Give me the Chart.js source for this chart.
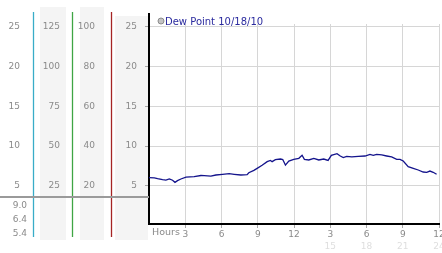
<!DOCTYPE html>
<html>
<head>
<meta charset="utf-8">
<title>Dew Point 10/18/10</title>
<script src="https://cdn.jsdelivr.net/npm/chart.js@4.4.0/dist/chart.umd.min.js"></script>
<style>
  html, body { margin: 0; padding: 0; background: #fff; }
</style>
</head>
<body>
<canvas id="dewChart" width="442" height="253"></canvas>
<script>
'use strict';

// readings for the day, hours after midnight
const hours = [
  0.0, 0.44, 0.71, 1.12, 1.40, 1.68, 1.95, 2.15, 2.36, 2.64,
  3.06, 3.74, 4.30, 4.57, 5.12, 5.54, 6.08, 6.64, 7.05, 7.60,
  8.12, 8.26, 8.68, 8.95, 9.36, 9.78, 10.05, 10.19, 10.46, 10.88,
  11.07, 11.29, 11.57, 11.98, 12.40, 12.67, 12.86, 13.22, 13.64, 14.05,
  14.46, 14.82, 15.09, 15.56, 15.83, 16.08, 16.36, 16.78, 17.32, 17.88,
  18.29, 18.56, 18.84, 19.26, 19.67, 20.08, 20.50, 20.77, 21.04, 21.45,
  21.87, 22.28, 22.69, 22.98, 23.25, 23.52, 23.80
];
const dewPoint = [
  6.03, 6.0, 5.9, 5.78, 5.73, 5.86, 5.7, 5.44, 5.65, 5.86,
  6.1, 6.15, 6.3, 6.28, 6.23, 6.36, 6.45, 6.53, 6.45, 6.36,
  6.4, 6.65, 6.95, 7.2, 7.58, 8.04, 8.2, 8.04, 8.3, 8.37,
  8.3, 7.6, 8.12, 8.33, 8.46, 8.84, 8.33, 8.25, 8.46, 8.25,
  8.37, 8.2, 8.84, 9.05, 8.75, 8.55, 8.71, 8.63, 8.71, 8.75,
  8.96, 8.84, 8.96, 8.88, 8.75, 8.63, 8.33, 8.33, 8.12, 7.42,
  7.2, 6.99, 6.74, 6.7, 6.86, 6.7, 6.45
];

const seriesLabel = 'Dew Point 10/18/10';

const hourTicks = [3, 6, 9, 12, 15, 18, 21, 24];
const hourLabels = ['3', '6', '9', '12', '3', '6', '9', '12'];
const hourLabels24 = ['', '', '', '', '15', '18', '21', '24'];

const dewTicks = [5, 10, 15, 20, 25];
const col2Ticks = [25, 50, 75, 100, 125];
const col3Ticks = [20, 40, 60, 80, 100];
const statLabels = ['9.0', '6.4', '5.4'];   // high, last, low

const DEW_MIN = 0.2, DEW_MAX = 25.35;
const FONT = '"DejaVu Sans", Verdana, sans-serif';
const LABEL_GREY = '#8a8a8a';

function fixWidth(w) {
  return function (scale) {
    scale.width = w;
    scale.paddingTop = 0;
    scale.paddingBottom = 0;
  };
}
function fixHeight(h) {
  return function (scale) {
    scale.height = h;
    scale.paddingLeft = 0;
    scale.paddingRight = 0;
  };
}
function useTicks(values) {
  return function (scale) {
    scale.ticks = values.map(v => ({ value: v }));
  };
}

function sideAxis(values, min, max, width, pad, weight) {
  return {
    type: 'linear',
    position: 'left',
    weight: weight,
    min: min,
    max: max,
    afterBuildTicks: useTicks(values),
    afterFit: fixWidth(width),
    grid: { display: false, drawTicks: false },
    border: { display: false },
    ticks: { color: LABEL_GREY, padding: pad, autoSkip: false, font: { family: FONT, size: 9 } }
  };
}

// grey columns, coloured rules, legend and the stats block on the left
const panelPlugin = {
  id: 'panels',
  beforeDraw(chart) {
    const ctx = chart.ctx, s = chart.scales;
    ctx.save();
    ctx.fillStyle = '#f4f4f4';
    ctx.fillRect(s.yB.left + 7, 7, 26, 233);
    ctx.fillRect(s.yC.left + 8, 7, 24, 233);
    ctx.fillRect(s.y.left + 4, 16, 33, 224);
    ctx.restore();
  },
  afterDraw(chart) {
    const ctx = chart.ctx, s = chart.scales, area = chart.chartArea;
    ctx.save();

    const rules = [[s.yA, '#38acc8'], [s.yB, '#3fa544'], [s.yC, '#a52424']];
    ctx.lineWidth = 1.3;
    rules.forEach(([sc, col]) => {
      const x = Math.round(sc.right) + 0.5;
      ctx.strokeStyle = col;
      ctx.beginPath();
      ctx.moveTo(x, 12);
      ctx.lineTo(x, 237);
      ctx.stroke();
    });

    ctx.strokeStyle = '#9a9a9a';
    ctx.lineWidth = 2;
    ctx.beginPath();
    ctx.moveTo(0, 197);
    ctx.lineTo(area.left, 197);
    ctx.stroke();

    // axis line runs up past the plot
    ctx.strokeStyle = '#000';
    ctx.lineWidth = 2;
    ctx.beginPath();
    ctx.moveTo(area.left, 13);
    ctx.lineTo(area.left, area.top + 1);
    ctx.stroke();

    // legend
    ctx.beginPath();
    ctx.arc(161, 21, 3, 0, Math.PI * 2);
    ctx.fillStyle = '#c4c4c4';
    ctx.fill();
    ctx.lineWidth = 1;
    ctx.strokeStyle = '#8c8c8c';
    ctx.stroke();
    ctx.fillStyle = '#2a2a9e';
    ctx.font = '10px ' + FONT;
    ctx.textBaseline = 'alphabetic';
    ctx.textAlign = 'left';
    ctx.fillText(chart.data.datasets[0].label, 165, 24.5);

    ctx.fillStyle = LABEL_GREY;
    ctx.font = '9.5px ' + FONT;
    ctx.fillText('Hours', 152, 235);

    ctx.font = '9px ' + FONT;
    ctx.textAlign = 'right';
    [207.5, 222, 236].forEach((y, i) => ctx.fillText(statLabels[i], 27, y));
    ctx.restore();
  }
};

new Chart(document.getElementById('dewChart').getContext('2d'), {
  type: 'line',
  data: {
    datasets: [{
      label: seriesLabel,
      data: hours.map((h, i) => ({ x: h, y: dewPoint[i] })),
      borderColor: '#14148c',
      borderWidth: 1.3,
      pointRadius: 0,
      tension: 0,
      fill: false
    }]
  },
  options: {
    responsive: false,
    animation: false,
    layout: { padding: { top: 24, left: 0, right: 3, bottom: 4 } },
    plugins: { legend: { display: false }, tooltip: { enabled: false } },
    scales: {
      x: {
        type: 'linear',
        position: 'bottom',
        min: 0,
        max: 24,
        afterBuildTicks: useTicks(hourTicks),
        afterFit: fixHeight(14),
        grid: { color: '#d6d6d6', tickColor: '#a8a8a8', tickLength: 4 },
        border: { color: '#000', width: 2 },
        ticks: {
          color: LABEL_GREY, padding: 1, autoSkip: false, maxRotation: 0,
          font: { family: FONT, size: 9 },
          callback: (v, i) => hourLabels[i]
        }
      },
      x2: {
        type: 'linear',
        position: 'bottom',
        weight: 1,
        min: 0,
        max: 24,
        afterBuildTicks: useTicks(hourTicks),
        afterFit: fixHeight(11),
        grid: { display: false, drawTicks: false },
        border: { display: false },
        ticks: {
          color: '#dedede', padding: 3, autoSkip: false, maxRotation: 0,
          font: { family: FONT, size: 9 },
          callback: (v, i) => hourLabels24[i]
        }
      },
      y: {
        type: 'linear',
        position: 'left',
        weight: 0,
        min: DEW_MIN,
        max: DEW_MAX,
        afterBuildTicks: useTicks(dewTicks),
        afterFit: fixWidth(38),
        grid: { color: '#d6d6d6', tickColor: '#a8a8a8', tickLength: 4 },
        border: { color: '#000', width: 2 },
        ticks: { color: LABEL_GREY, padding: 8, autoSkip: false, font: { family: FONT, size: 9 } }
      },
      yC: sideAxis(col3Ticks, DEW_MIN * 4, DEW_MAX * 4, 39, 16, 1),
      yB: sideAxis(col2Ticks, DEW_MIN * 5, DEW_MAX * 5, 39, 12, 2),
      yA: sideAxis(dewTicks, DEW_MIN, DEW_MAX, 33, 13, 3)
    }
  },
  plugins: [panelPlugin]
});
</script>
</body>
</html>
